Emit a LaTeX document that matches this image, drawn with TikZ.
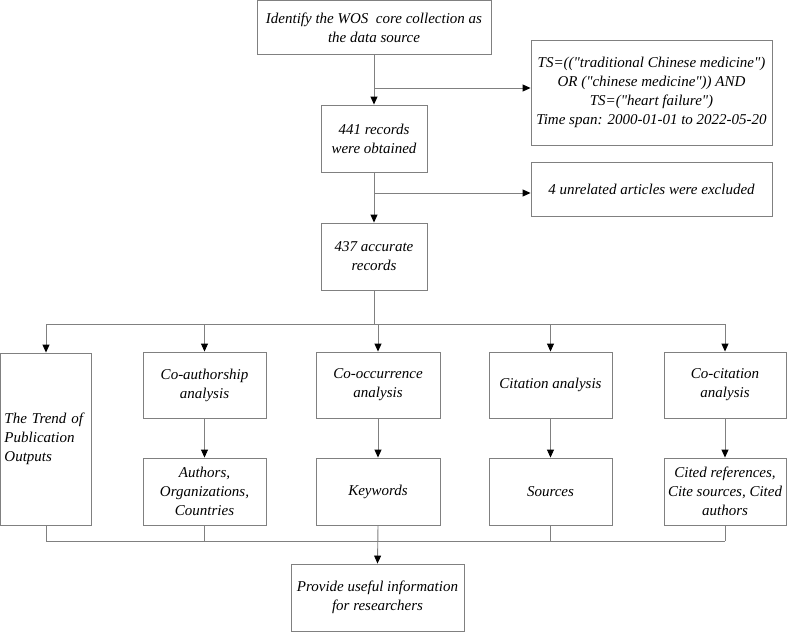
\documentclass[tikz,border=0pt]{standalone}
\usepackage{fontspec}
\setmainfont{Liberation Serif}[Ligatures=TeXOff]
\usepackage{tikz}
\usetikzlibrary{arrows.meta}

\definecolor{linegray}{RGB}{128,128,128}

\begin{document}
\begin{tikzpicture}[
    x=1pt, y=-1pt,
    box/.style = {
      shape=rectangle,
      draw=linegray,
      line width=0.9pt,
      inner sep=0pt,
      align=center,
      font=\fontsize{15}{19}\selectfont\itshape
    },
    line/.style = {
      draw=linegray,
      line width=0.9pt
    },
    arrow/.style = {
      line,
      -{Triangle[length=8pt,width=7pt,color=black]}
    }
  ]
    \useasboundingbox (0,0) rectangle (787,632);

    % Top column
    \node[box, minimum width=234, minimum height=54] (source) at (374,27.5)
      {Identify the WOS\ \ core collection as\\the data source};
    \node[box, minimum width=106, minimum height=67] (obtained) at (374,138.5)
      {441 records\\were obtained};
    \node[box, minimum width=106, minimum height=67] (accurate) at (374,256.5)
      {437 accurate\\records};

    % Side boxes
    \node[box, minimum width=241, minimum height=105] (query) at (651.5,92.5)
      {TS=(("traditional Chinese medicine")\\OR ("chinese medicine")) AND\\TS=("heart failure")\\Time span: 2000-01-01 to 2022-05-20};
    \node[box, minimum width=241, minimum height=54] (excluded) at (651.5,189)
      {4 unrelated articles were excluded};

    % Analysis row
    \node[box, minimum width=91, minimum height=172, text width=83, align=left] (trend) at (46,439)
      {The Trend of\\Publication\\Outputs};
    \node[box, minimum width=123, minimum height=66] (coauthor) at (204.5,385)
      {Co-authorship\\analysis};
    \node[box, minimum width=124, minimum height=66] (cooccur) at (378,385)
      {Co-occurrence\\analysis};
    \node[box, minimum width=123, minimum height=66] (citation) at (550.5,385)
      {Citation analysis};
    \node[box, minimum width=122, minimum height=66] (cocitation) at (725,385)
      {Co-citation\\analysis};

    % Results row
    \node[box, minimum width=123, minimum height=67] (authors) at (204.5,491.5)
      {Authors,\\Organizations,\\Countries};
    \node[box, minimum width=124, minimum height=67] (keywords) at (378,491.5)
      {Keywords};
    \node[box, minimum width=123, minimum height=67] (sources) at (550.5,491.5)
      {Sources};
    \node[box, minimum width=122, minimum height=67] (cited) at (725,491.5)
      {Cited references,\\Cite sources, Cited\\authors};

    % Final box
    \node[box, minimum width=173, minimum height=67] (useful) at (377.5,597.5)
      {Provide useful information\\for researchers};

    % Junctions
    \coordinate (split1) at (374,88);
    \coordinate (split2) at (374,193);
    \coordinate (topbus) at (374,324);
    \coordinate (botbus) at (377.5,541);

    % Arrows
    \draw[arrow] (source) -- (obtained);
    \draw[arrow] (split1) -- (split1 -| query.west);
    \draw[arrow] (obtained) -- (accurate);
    \draw[arrow] (split2) -- (split2 -| excluded.west);

    \draw[line] (accurate) -- (topbus);
    \draw[line] (topbus -| trend.north) -- (topbus -| cocitation.north);
    \draw[arrow] (topbus -| trend.north) -- (trend.north);
    \draw[arrow] (topbus -| coauthor.north) -- (coauthor.north);
    \draw[arrow] (topbus -| cooccur.north) -- (cooccur.north);
    \draw[arrow] (topbus -| citation.north) -- (citation.north);
    \draw[arrow] (topbus -| cocitation.north) -- (cocitation.north);

    \draw[arrow] (coauthor) -- (authors);
    \draw[arrow] (cooccur) -- (keywords);
    \draw[arrow] (citation) -- (sources);
    \draw[arrow] (cocitation) -- (cited);

    \draw[line] (trend.south) -- (botbus -| trend.south);
    \draw[line] (authors.south) -- (botbus -| authors.south);
    \draw[line] (sources.south) -- (botbus -| sources.south);
    \draw[line] (cited.south) -- (botbus -| cited.south);
    \draw[line] (botbus -| trend.south) -- (botbus -| cited.south);
    \draw[arrow] (keywords.south) -- (useful.north);

  \end{tikzpicture}
\end{document}
